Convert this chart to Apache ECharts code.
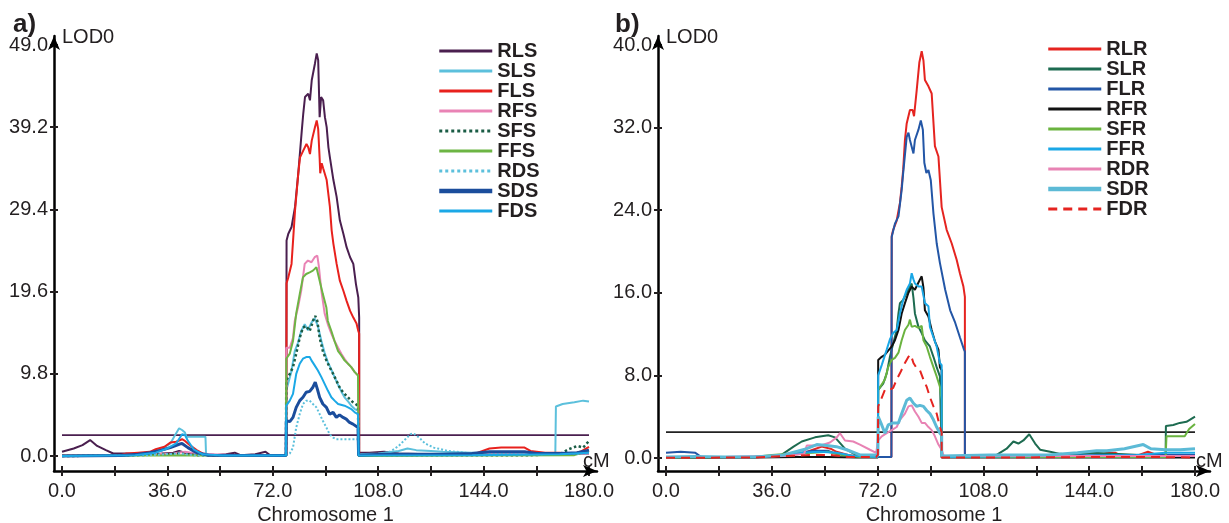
<!DOCTYPE html>
<html>
<head>
<meta charset="utf-8">
<script src="https://cdn.jsdelivr.net/npm/echarts@6/dist/echarts.min.js"></script>
<style>
html,body{margin:0;padding:0;background:#fff;}
#chart{width:1229px;height:523px;}
</style>
</head>
<body>
<div id="chart"></div>
<script>
// ---------- data ----------
const panelTitles = ['a)', 'b)'];
const xTickValues = [0, 18, 36, 54, 72, 90, 108, 126, 144, 162, 180];
const xTickLabels = [0, 36, 72, 108, 144, 180];
const yTicksA = [0, 9.8, 19.6, 29.4, 39.2, 49.0];
const yTicksB = [0, 8, 16, 24, 32, 40];
const thresholdA = 2.5;
const thresholdB = 2.5;

const namesA = ['RLS', 'SLS', 'FLS', 'RFS', 'SFS', 'FFS', 'RDS', 'SDS', 'FDS'];
const namesB = ['RLR', 'SLR', 'FLR', 'RFR', 'SFR', 'FFR', 'RDR', 'SDR', 'FDR'];

// panel a  [cM, LOD]
const RLS = [[0,0.5],[4,0.9],[7,1.3],[9.6,1.9],[12,1.2],[15,0.7],[17.5,0.3],[22,0.3],[28,0.2],[34,0.3],[38,0.4],[40,0.6],[42,0.4],[46,0.2],[52,0.1],[56,0.2],[59,0.4],[61,0.1],[66,0.2],[69.5,0.5],[71,0.1],[76.6,0.1],[76.7,25.7],[77.3,26.5],[78.4,27.3],[79,28.5],[79.6,29.7],[80.7,33.7],[81.9,38.8],[82.4,40.8],[83,42.8],[84.1,43.2],[84.7,42.4],[85.3,44.8],[86.4,46.8],[87,48.0],[87.5,47.2],[88,40.4],[88.5,42.8],[89.2,42.4],[89.8,40.4],[90.4,39.2],[91,36.8],[91.5,35.6],[92.7,32.9],[93.8,30.9],[94.9,28.1],[96.1,26.5],[97.2,24.9],[98.4,23.7],[99.5,22.9],[100.4,20.5],[101.2,18.9],[101.5,16.5],[101.5,0.4],[105,0.4],[110,0.5],[115,0.3],[125,0.2],[140,0.2],[160,0.3],[170,0.2],[180,0.3]];
const SLS = [[0,0],[20,0],[26,0.2],[30,0.4],[34,0.8],[37,1.5],[38.5,2.4],[40,3.3],[41,3.1],[42,2.8],[42.5,2.3],[49,2.3],[49.2,0.2],[55,0.1],[76.5,0.1],[76.6,7.8],[78.3,10.0],[79.5,12.5],[80.6,13.5],[81.7,14.9],[82.9,15.7],[84.0,15.0],[85.2,15.9],[86.3,16.4],[87.4,15.5],[88.6,13.7],[89.7,12.3],[90.8,11.2],[92.0,10.3],[93.1,9.4],[94.3,8.5],[95.4,7.7],[96.5,7.0],[97.7,6.5],[98.8,6.0],[100.0,5.6],[101.1,5.4],[101.3,5.4],[101.3,0.2],[108,0.3],[115,0.6],[118,0.9],[121,0.7],[126,0.6],[130,0.5],[140,0.4],[150,0.3],[160,0.3],[168.5,0.3],[168.7,5.9],[171,6.2],[175,6.4],[178,6.6],[180,6.5]];
const FLS = [[0,0.05],[10,0.05],[20,0.1],[22,0.3],[26,0.4],[30,0.5],[32,0.8],[35,1.1],[37,1.6],[39,1.7],[41,2.0],[42,1.8],[44,1.2],[46,0.7],[48,0.3],[52,0.1],[60,0.05],[76.6,0.05],[76.7,20.6],[77.3,21.3],[78.4,22.9],[79,26.1],[79.6,29.3],[80.7,33.7],[81.3,35.6],[82.4,36.4],[83.5,37.2],[84.1,36.8],[84.7,36.0],[85.3,37.6],[86.4,39.2],[87,40.0],[87.5,39.0],[88,35.5],[88.2,33.7],[88.7,34.9],[89.2,34.3],[90.4,32.9],[91.5,29.7],[92.1,26.9],[92.7,25.3],[93.8,22.9],[94.9,20.9],[96.1,19.7],[97.2,18.5],[98.4,17.3],[99.5,16.5],[100.6,15.8],[101.2,14.9],[101.5,14.6],[101.5,0.1],[110,0.1],[120,0.1],[130,0.2],[140,0.2],[142,0.4],[146,0.9],[150,1.0],[158,1.0],[160,0.6],[165,0.4],[170,0.4],[174,0.2],[177,0.5],[180,1.1]];
const RFS = [[0,0.1],[20,0.1],[30,0.2],[38,0.3],[42,0.5],[46,0.3],[52,0.2],[60,0.1],[76.5,0.1],[76.6,12.9],[77.8,12.9],[78.9,14.1],[79.5,16.1],[80.6,17.7],[81.7,19.7],[82.9,22.9],[84.0,23.3],[85.2,23.1],[86.3,23.7],[87.2,23.9],[87.7,22.7],[88.6,19.7],[89.7,17.0],[90.8,15.7],[92.0,14.6],[93.1,13.7],[94.3,12.9],[95.4,12.2],[96.5,11.6],[97.7,11.0],[98.8,10.6],[100.0,10.0],[101.1,9.6],[101.3,9.5],[101.3,0.1],[120,0.2],[140,0.2],[160,0.2],[180,0.3]];
const SFS = [[0,0],[20,0.05],[36,0.2],[40,0.3],[46,0.1],[76.5,0.05],[76.6,9.0],[77.8,9.8],[78.9,10.6],[80.0,12.2],[81.2,14.1],[82.3,15.3],[83.4,15.5],[84.0,15.7],[84.6,14.9],[85.2,15.5],[85.7,16.1],[86.5,16.7],[87.2,16.1],[88.0,14.1],[89.1,12.5],[90.3,11.4],[91.4,10.6],[92.6,9.8],[93.7,9.0],[94.8,8.2],[96.0,7.6],[97.1,7.2],[98.2,6.8],[99.4,6.4],[101.1,6.0],[101.3,6.0],[101.3,0.05],[130,0.1],[160,0.1],[170,0.2],[173,0.8],[176,1.2],[178,1.0],[180,1.8]];
const FFS = [[0,0.02],[30,0.05],[40,0.1],[60,0.02],[76.5,0],[76.6,11.6],[77.8,12.2],[78.9,13.7],[80.0,17.0],[81.2,19.3],[82.3,21.3],[83.4,21.7],[84.6,21.9],[85.7,22.1],[86.9,22.5],[87.4,22.7],[88.0,20.9],[89.1,19.3],[90.3,17.7],[90.8,16.1],[92.0,14.9],[93.1,13.7],[94.3,12.5],[95.4,12.0],[96.5,11.4],[97.7,11.0],[98.8,10.6],[100.0,10.0],[101.1,9.6],[101.3,9.5],[101.3,0],[140,0.05],[175,0.1],[178,0.4],[180,0.6]];
const RDS = [[0,0],[30,0.1],[40,0.3],[45,0.1],[76.6,0.1],[77.8,0.3],[78.9,1.0],[80.0,3.4],[81.2,5.0],[82.3,6.2],[83.4,6.6],[84.6,6.6],[85.7,6.2],[86.9,5.8],[88.0,5.0],[89.1,4.2],[90.3,3.4],[91.4,2.6],[92.6,2.2],[93.7,2.0],[96,2.0],[101.1,2.0],[101.3,2.0],[101.3,0.1],[108,0.2],[112,0.5],[115,1.2],[117,1.9],[119,2.6],[120,2.7],[122,2.2],[124,1.5],[127,1.0],[132,0.6],[140,0.3],[160,0.2],[180,0.3]];
const SDS = [[0,0],[20,0.05],[26,0.2],[30,0.4],[34,0.7],[37,1.0],[40,1.4],[41,1.5],[43,1.0],[46,0.4],[50,0.1],[76.5,0.05],[76.6,4.2],[77.8,4.1],[78.9,4.6],[80.0,5.8],[81.2,6.6],[82.3,7.0],[83.4,7.6],[84.6,7.7],[85.7,8.2],[86.5,8.8],[87.2,8.0],[88.0,7.0],[89.1,6.2],[90.3,5.8],[91.4,5.0],[92.6,5.2],[93.7,4.6],[94.8,4.9],[96.0,4.6],[97.1,4.4],[98.2,4.0],[99.4,3.8],[101.1,3.4],[101.3,3.3],[101.3,0.1],[110,0.2],[130,0.2],[140,0.3],[146,0.5],[158,0.5],[162,0.3],[170,0.3],[176,0.4],[180,0.7]];
const FDS = [[0,0],[25,0.1],[32,0.4],[36,0.9],[39,1.5],[41,2.6],[42,2.5],[43,1.8],[45,0.8],[48,0.2],[55,0.05],[76.5,0.05],[76.6,6.0],[77.8,6.6],[78.9,7.4],[80.0,9.8],[81.2,11.0],[82.3,11.6],[83.4,11.8],[84.6,11.8],[85.2,11.4],[86.3,10.8],[87.4,10.2],[88.6,9.4],[89.7,8.6],[90.8,7.8],[92.0,7.0],[93.1,6.6],[94.3,6.2],[96.5,6.0],[97.7,5.8],[98.8,5.6],[100.0,5.2],[101.1,5.0],[101.3,5.0],[101.3,0.05],[140,0.1],[170,0.2],[180,0.4]];

// panel b  [cM, LOD]
const RLR = [[0,0.1],[10,0.1],[20,0.05],[30,0.1],[40,0.2],[46,0.4],[50,0.8],[53,1.1],[56,0.9],[58,0.6],[62,0.3],[66,0.1],[72,0.1],[76.7,0.1],[76.8,21.5],[77.3,22.1],[78.5,23.0],[79.6,24.7],[80.2,26.3],[80.7,27.9],[81.3,30.8],[81.9,32.4],[83.0,33.7],[83.9,33.7],[84.4,33.1],[85.3,35.6],[86.2,38.3],[87.0,39.4],[87.6,38.5],[88.1,36.6],[89.3,36.0],[90.4,35.3],[91.5,30.2],[92.7,29.2],[93.8,24.3],[95.5,22.1],[97.2,20.8],[98.9,19.2],[100.0,17.9],[101.2,16.6],[101.7,15.6],[101.7,0.1],[110,0.2],[120,0.1],[130,0.2],[140,0.1],[148,0.3],[150,0.5],[153,0.5],[155,0.2],[160,0.2],[164,0.6],[167,0.3],[172,0.2],[180,0.1]];
const SLR = [[0,0.1],[10,0.05],[20,0.1],[30,0.05],[39.3,0.3],[43.4,1.1],[46.2,1.6],[50.7,2.0],[55.2,2.2],[57.5,2.0],[60.9,0.9],[64.3,0.35],[66.5,0.2],[72.1,0.2],[72.2,6.6],[73.9,7.2],[75.1,8.2],[76.2,9.8],[77.3,11.1],[78.5,12.4],[79.1,14.0],[79.6,15.0],[80.7,15.3],[81.9,16.0],[83.0,16.6],[83.6,16.9],[84.2,15.5],[84.7,14.0],[85.9,12.7],[87.0,12.1],[88.1,11.4],[89.8,10.8],[91.0,9.8],[92.1,8.8],[93.2,7.9],[93.8,7.8],[93.8,0.2],[100,0.1],[108,0.1],[112.5,0.3],[115.9,0.9],[118.2,1.6],[119.9,1.4],[121.6,1.7],[123.6,2.3],[125.6,1.4],[127.3,0.8],[130.7,0.6],[134.1,0.4],[138.6,0.3],[145.4,0.5],[152.2,0.4],[161.3,0.3],[170,0.3],[170.1,3.1],[172.6,3.2],[174.8,3.4],[177.1,3.5],[180,4.0]];
const FLR = [[0,0.5],[5,0.6],[10,0.5],[12,0.1],[20,0.1],[30,0.1],[40,0.2],[46,0.5],[50,0.7],[55,0.7],[58,0.4],[62,0.2],[70,0.1],[76.7,0.1],[76.8,21.4],[77.9,22.7],[79.1,23.4],[80.2,26.0],[80.7,27.6],[81.9,31.1],[82.5,31.5],[83.0,30.8],[83.6,30.8],[84.2,29.5],[84.7,30.8],[85.9,31.8],[86.7,32.7],[87.4,31.8],[87.9,28.6],[88.6,27.6],[89.3,27.9],[90.1,26.9],[91.0,23.7],[92.1,20.8],[93.2,18.9],[95.0,16.3],[96.7,14.3],[98.4,13.1],[100.0,11.7],[101.4,10.5],[101.7,10.3],[101.7,0.1],[110,0.2],[130,0.2],[150,0.3],[165,0.3],[180,0.3]];
const RFR = [[0,0.02],[30,0.05],[45,0.1],[55,0.1],[65,0.05],[72.1,0.05],[72.2,9.5],[73.4,9.8],[74.5,10.0],[75.6,10.4],[76.8,10.8],[77.9,11.4],[79.1,12.4],[80.2,14.0],[81.3,15.0],[82.5,16.0],[83.6,16.6],[84.7,16.3],[85.9,17.0],[87.0,17.6],[87.6,16.5],[88.1,14.3],[89.3,13.7],[90.4,12.4],[91.5,11.3],[92.7,10.5],[93.2,8.8],[93.8,8.5],[93.8,0.05],[120,0.05],[150,0.05],[180,0.05]];
const SFR = [[0,0.05],[30,0.1],[36,0.3],[42,0.4],[50,0.5],[55,0.6],[60,0.3],[66,0.1],[72.1,0.1],[72.2,6.6],[74.5,7.6],[75.6,8.8],[76.8,9.5],[77.9,9.7],[79.1,10.2],[80.2,11.4],[81.3,12.4],[82.5,12.9],[83.0,13.4],[83.6,12.7],[84.7,12.8],[85.9,12.6],[87.0,12.8],[87.6,11.4],[88.7,10.8],[89.8,9.8],[91.0,8.8],[92.1,7.9],[93.2,6.9],[93.8,5.6],[93.8,0.1],[120,0.1],[150,0.1],[170,0.1],[170.3,2.1],[176.5,2.1],[178,2.8],[180,3.3]];
const FFR = [[0,0.1],[20,0.1],[40,0.2],[46,0.5],[52,0.6],[58,0.5],[64,0.2],[72.1,0.1],[72.2,8.0],[73.4,9.0],[75.1,10.5],[76.2,11.5],[77.3,12.1],[78.5,12.4],[79.6,14.0],[80.7,15.3],[81.9,16.3],[83.0,16.9],[83.6,17.9],[84.2,17.3],[84.7,16.9],[85.9,16.6],[87.0,16.6],[88.1,15.0],[89.3,14.7],[89.8,12.7],[91.0,11.7],[92.1,10.8],[93.2,9.2],[93.8,9.0],[93.8,0.1],[130,0.2],[160,0.3],[170,0.5],[180,0.5]];
const RDR = [[0,0.1],[20,0.1],[40,0.2],[47,0.4],[47.9,1.2],[52.4,1.2],[55.8,1.5],[58.1,2.0],[59.2,2.4],[60.9,1.7],[63.7,1.6],[66,1.3],[69.4,0.8],[71.5,0.5],[72.2,1.7],[73.4,2.1],[75.1,2.4],[76.8,2.7],[78.5,3.0],[79.6,3.7],[81.3,4.3],[82.5,5.0],[83.6,5.1],[84.7,4.5],[85.9,4.0],[87.0,3.4],[88.1,3.4],[89.3,3.0],[90.4,2.7],[91.5,2.1],[92.7,1.3],[93.8,0.8],[94.5,0.2],[110,0.2],[140,0.2],[160,0.2],[180,0.2]];
const SDR = [[0,0.1],[10,0.15],[20,0.1],[30,0.1],[40,0.3],[47.9,0.9],[51.3,1.3],[54.7,1.2],[58,1.1],[61.5,0.8],[66,0.3],[72.1,0.3],[72.2,4.0],[73.4,3.2],[74.5,2.4],[75.6,3.2],[77.3,3.4],[79.1,3.4],[80.2,4.3],[81.9,5.6],[83.0,5.8],[84.2,5.3],[85.3,5.0],[86.4,5.1],[87.6,5.0],[88.7,4.6],[89.8,4.3],[91.0,3.7],[92.1,3.0],[93.2,2.4],[93.8,2.2],[93.8,0.2],[110,0.3],[130,0.3],[140,0.5],[146.5,0.7],[150,0.7],[156,0.9],[162.4,1.3],[165,0.9],[170,0.8],[175,0.8],[180,0.9]];
const FDR = [[0,0.02],[30,0.05],[50,0.3],[56,0.3],[62,0.1],[71.5,0.1],[72.1,0.3],[72.2,5.0],[74.5,6.6],[76.2,6.6],[77.3,6.8],[78.5,7.6],[79.6,8.2],[81.3,9.2],[82.5,9.8],[83.3,10.0],[84.2,9.2],[85.3,8.7],[86.4,8.5],[87.6,7.6],[88.7,6.9],[89.8,5.9],[91.0,5.0],[92.1,4.3],[93.2,3.0],[93.8,2.5],[93.8,0.05],[120,0.05],[150,0.1],[165,0.1],[180,0.05]];

// ---------- styling / layout ----------
const INK = '#231f20';
const FONT = '"Liberation Sans", Arial, sans-serif';
const styleA = {
  RLS:{c:'#4a1f4f',w:2}, SLS:{c:'#5cc0dc',w:2}, FLS:{c:'#e8211d',w:2},
  RFS:{c:'#e983b5',w:2}, SFS:{c:'#1a5c45',w:2.5,t:'dotted'}, FFS:{c:'#6db544',w:2},
  RDS:{c:'#5cc0dc',w:2,t:'dotted'}, SDS:{c:'#1b4d9c',w:3}, FDS:{c:'#1ba8e6',w:2}
};
const styleB = {
  RLR:{c:'#e52420',w:2}, SLR:{c:'#1d6b50',w:2}, FLR:{c:'#2356a6',w:2},
  RFR:{c:'#111111',w:2}, SFR:{c:'#6ab33f',w:2}, FFR:{c:'#1aa7e6',w:2},
  RDR:{c:'#e883b4',w:2}, SDR:{c:'#5cbad6',w:3}, FDR:{c:'#e52420',w:2,t:[9,6]}
};
const dataA = {RLS,SLS,FLS,RFS,SFS,FFS,RDS,SDS,FDS};
const dataB = {RLR,SLR,FLR,RFR,SFR,FFR,RDR,SDR,FDR};

// panel frames (axis lines sit at the frame's left/bottom edges, slightly
// outside the data origin, as in the original figure)
const frames = [
  {left:54, top:36, width:543, height:435, x0px:62, x180px:589, y0px:456, yTopPx:45, yTop:yTicksA[5]},
  {left:658, top:36, width:552, height:435, x0px:666, x180px:1195, y0px:458, yTopPx:45, yTop:yTicksB[5]}
];
function ranges(f) {
  const pxX = (f.x180px - f.x0px) / 180;
  const pxY = (f.y0px - f.yTopPx) / f.yTop;
  const xMin = -(f.x0px - f.left) / pxX;
  const xMax = xMin + f.width / pxX;
  const yMin = -((f.top + f.height) - f.y0px) / pxY;
  const yMax = (f.y0px - f.top) / pxY;
  return {xMin, xMax, yMin, yMax};
}

function mkSeries(name, data, st, idx) {
  return {
    name, type:'line', data, xAxisIndex:idx*2, yAxisIndex:idx*2,
    symbol:'none', animation:false,
    lineStyle:{color:st.c, width:st.w, type:st.t || 'solid'},
    itemStyle:{color:st.c}
  };
}

const xAxes = [], yAxes = [];
frames.forEach((f, i) => {
  const r = ranges(f);
  const yTicks = i === 0 ? yTicksA : yTicksB;
  xAxes.push({
    type:'value', gridIndex:i, position:'bottom', min:r.xMin, max:r.xMax,
    axisLine:{show:true, onZero:false, lineStyle:{color:'#000', width:2.5}, symbol:['none','arrow'], symbolSize:[9,14]},
    axisTick:{show:true, inside:false, length:5, customValues:xTickValues, lineStyle:{color:INK, width:2}},
    axisLabel:{show:true, margin:10, customValues:xTickLabels, color:INK, fontSize:20, fontFamily:FONT,
      formatter:v => Number(v).toFixed(1)},
    splitLine:{show:false},
    name:'Chromosome 1', nameLocation:'middle', nameGap:32,
    nameTextStyle:{color:INK, fontSize:20, fontFamily:FONT}
  });
  xAxes.push({
    type:'value', gridIndex:i, position:'bottom', min:r.xMin, max:r.xMax,
    axisLine:{show:false, onZero:false},
    axisTick:{show:true, inside:true, length:5, customValues:xTickValues, lineStyle:{color:INK, width:2}},
    axisLabel:{show:false}, splitLine:{show:false},
    name:'cM', nameLocation:'end', nameGap:-14,
    nameTextStyle:{color:INK, fontSize:20, fontFamily:FONT, align:'left', verticalAlign:'bottom'}
  });
  yAxes.push({
    type:'value', gridIndex:i, position:'left', min:r.yMin, max:r.yMax,
    axisLine:{show:true, onZero:false, lineStyle:{color:'#000', width:2.5}, symbol:['none','arrow'], symbolSize:[9,14]},
    axisTick:{show:true, inside:false, length:4, customValues:yTicks, lineStyle:{color:INK, width:2}},
    axisLabel:{show:true, margin:6, customValues:yTicks, color:INK, fontSize:20, fontFamily:FONT,
      formatter:v => Number(v).toFixed(1)},
    splitLine:{show:false},
    name:'LOD0', nameLocation:'end', nameGap:-1,
    nameTextStyle:{color:INK, fontSize:20, fontFamily:FONT, align:'left', verticalAlign:'middle', padding:[0,0,0,8]}
  });
  yAxes.push({
    type:'value', gridIndex:i, position:'left', min:r.yMin, max:r.yMax,
    axisLine:{show:false, onZero:false},
    axisTick:{show:true, inside:true, length:4, customValues:yTicks, lineStyle:{color:INK, width:2}},
    axisLabel:{show:false}, splitLine:{show:false}
  });
});

const series = [];
series.push({name:'thrA', type:'line', xAxisIndex:0, yAxisIndex:0, symbol:'none', animation:false,
  data:[[0,thresholdA],[180,thresholdA]], lineStyle:{color:'#4a1f4f', width:1.8}, silent:true});
series.push({name:'thrB', type:'line', xAxisIndex:2, yAxisIndex:2, symbol:'none', animation:false,
  data:[[0,thresholdB],[180,thresholdB]], lineStyle:{color:'#222', width:1.8}, silent:true});
namesA.forEach(n => series.push(mkSeries(n, dataA[n], styleA[n], 0)));
namesB.forEach(n => series.push(mkSeries(n, dataB[n], styleB[n], 1)));

function legendData(names, styles) {
  return names.map(n => ({name:n, lineStyle:{width: styles[n].w >= 3 ? 4.5 : 3}}));
}
const legendBase = {
  orient:'vertical', itemWidth:53, itemHeight:14, itemGap:0, padding:0,
  itemStyle:{color:'rgba(0,0,0,0)', borderWidth:0, opacity:0},
  textStyle:{color:INK, fontSize:20, fontWeight:'bold', fontFamily:FONT, lineHeight:20},
  selectedMode:false
};

const option = {
  backgroundColor:'#fff',
  animation:false,
  title:[
    {text:panelTitles[0], left:8, top:7, textStyle:{color:INK, fontSize:26, fontWeight:'bold', fontFamily:FONT}},
    {text:panelTitles[1], left:610, top:7, textStyle:{color:INK, fontSize:26, fontWeight:'bold', fontFamily:FONT}}
  ],
  legend:[
    Object.assign({}, legendBase, {left:437, top:41, data:legendData(namesA, styleA)}),
    Object.assign({}, legendBase, {left:1046, top:39, data:legendData(namesB, styleB)})
  ],
  grid:frames.map(f => ({left:f.left, top:f.top, width:f.width, height:f.height,
    containLabel:false, outerBoundsMode:'none'})),
  xAxis:xAxes,
  yAxis:yAxes,
  series
};

const chart = echarts.init(document.getElementById('chart'), null, {renderer:'canvas'});
chart.setOption(option);
</script>
</body>
</html>
